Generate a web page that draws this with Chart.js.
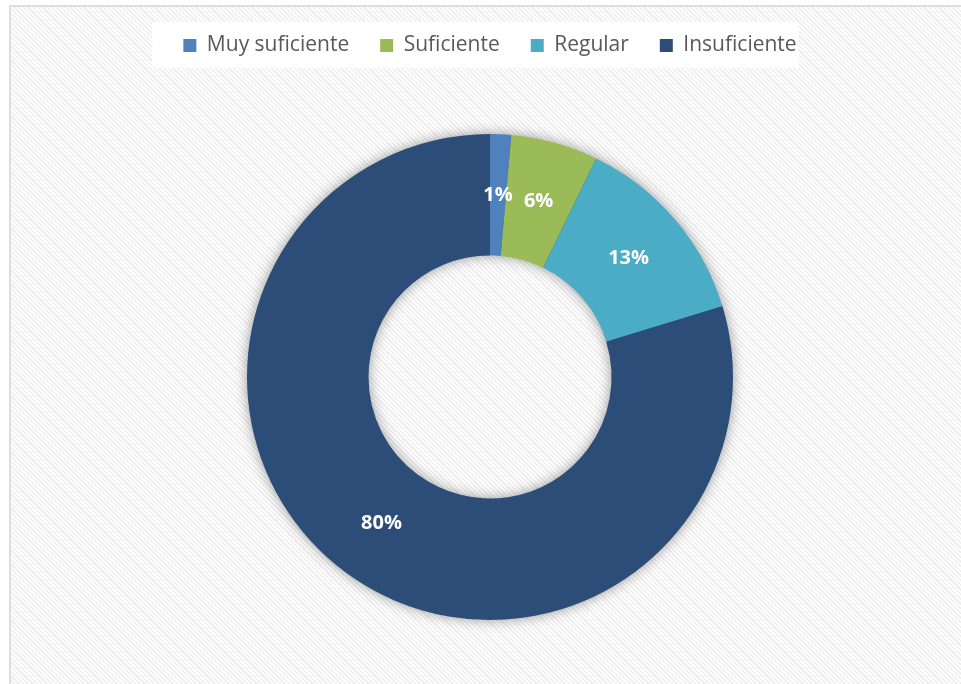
<!DOCTYPE html>
<html lang="es">
<head>
<meta charset="utf-8">
<script src="https://cdn.jsdelivr.net/npm/chart.js@4"></script>
<style>
    html, body { margin: 0; padding: 0; background: #fff; }
    body { width: 961px; height: 684px; overflow: hidden; position: relative; }
    .frame {
        position: absolute; left: 9px; top: 5px; width: 970px; height: 700px;
        border: 2px solid #dedede; box-sizing: border-box;
        background: repeating-linear-gradient(45deg, #ffffff 0 1.8px, #efefef 1.8px 3.3px);
    }
    #chart { position: absolute; left: 0; top: 0; }
</style>
</head>
<body>
<div class="frame"></div>
<canvas id="chart" width="961" height="684"></canvas>
<script>
// Data
const categorias = ['Muy suficiente', 'Suficiente', 'Regular', 'Insuficiente'];
const valores = [1.4, 5.8, 13.1, 79.7];
const etiquetas = ['1%', '6%', '13%', '80%'];
const colores = ['#4f81bd', '#9bbb59', '#4bacc6', '#2c4d77'];

// Extra room under the legend
const legendGap = {
    id: 'legendGap',
    beforeInit(chart) {
        const fit = chart.legend.fit;
        chart.legend.fit = function () {
            fit.bind(chart.legend)();
            this.height += 68;
        };
    }
};

// Shadow ring under the doughnut
const ringShadow = {
    id: 'ringShadow',
    beforeDatasetsDraw(chart) {
        const arc = chart.getDatasetMeta(0).data[0];
        if (!arc) return;
        const { x, y, outerRadius, innerRadius } = arc.getProps(['x', 'y', 'outerRadius', 'innerRadius'], true);
        const ctx = chart.ctx;
        ctx.save();
        ctx.shadowColor = 'rgba(0,0,0,0.45)';
        ctx.shadowBlur = 14;
        ctx.fillStyle = '#2c4d77';
        ctx.beginPath();
        ctx.arc(x, y, outerRadius - 1, 0, Math.PI * 2);
        ctx.arc(x, y, innerRadius + 1, 0, Math.PI * 2, true);
        ctx.fill();
        ctx.restore();
    }
};

// White box behind the legend
const legendBox = {
    id: 'legendBox',
    beforeDraw(chart) {
        const boxes = chart.legend.legendHitBoxes;
        if (!boxes || !boxes.length) return;
        const first = boxes[0], last = boxes[boxes.length - 1];
        const ctx = chart.ctx;
        ctx.save();
        ctx.fillStyle = '#ffffff';
        ctx.fillRect(first.left - 31, first.top - 13, last.left + last.width - first.left + 33, first.height + 25);
        ctx.restore();
    }
};

// Percent labels
const sliceLabels = {
    id: 'sliceLabels',
    afterDatasetsDraw(chart) {
        const ctx = chart.ctx;
        ctx.save();
        ctx.fillStyle = '#ffffff';
        ctx.font = 'bold 20px "Open Sans", sans-serif';
        ctx.textAlign = 'center';
        ctx.textBaseline = 'middle';
        chart.getDatasetMeta(0).data.forEach((arc, i) => {
            const p = arc.tooltipPosition();
            ctx.fillText(etiquetas[i], p.x, p.y);
        });
        ctx.restore();
    }
};

new Chart(document.getElementById('chart'), {
    type: 'doughnut',
    data: {
        labels: categorias,
        datasets: [{
            data: valores,
            backgroundColor: colores,
            borderWidth: 0
        }]
    },
    options: {
        responsive: false,
        animation: false,
        cutout: '50%',
        layout: { padding: { left: 19, top: 4, bottom: 64 } },
        plugins: {
            legend: {
                position: 'top',
                labels: {
                    color: '#595959',
                    font: { family: "'Open Sans', sans-serif", size: 21 },
                    boxWidth: 13,
                    boxHeight: 13,
                    padding: 31
                }
            },
            tooltip: { enabled: false }
        }
    },
    plugins: [legendGap, ringShadow, legendBox, sliceLabels]
});
</script>
</body>
</html>
